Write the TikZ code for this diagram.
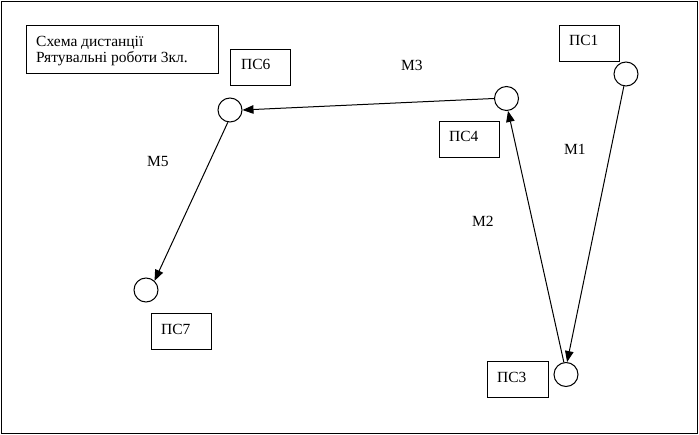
\documentclass[tikz,border=0pt]{standalone}
\usepackage{fontspec}
\setmainfont{Liberation Serif}
\usetikzlibrary{arrows.meta}
\begin{document}
\begin{tikzpicture}[x=1pt,y=-1pt,
  lbl/.style={anchor=base west,inner sep=0pt,font=\fontsize{15.5}{17}\selectfont},
  box/.style={draw,line width=1pt},
  st/.style={draw,circle,minimum size=24pt,inner sep=0pt,line width=1pt},
  con/.style={line width=1pt,-{Triangle[length=11pt,width=8.5pt]}}]
\useasboundingbox (0,0) rectangle (699,435);
\draw[line width=1pt] (1.5,1.5) rectangle (697.5,433.5);
% title
\draw[box] (26,26) rectangle (218,74);
\node[lbl] (t1) at (36,47) {Схема дистанції};
\node[lbl] (t2) at (36,63) {Рятувальні роботи 3кл.};
% label boxes
\draw[box] (230,50) rectangle (290,86);
\node[lbl] (l6) at (241,70) {ПС6};
\draw[box] (559,26) rectangle (619,62);
\node[lbl] (l1) at (569,46) {ПС1};
\draw[box] (439,122) rectangle (499,158);
\node[lbl] (l4) at (449,142) {ПС4};
\draw[box] (151,314) rectangle (211,350);
\node[lbl] (l7) at (161,335) {ПС7};
\draw[box] (487,362) rectangle (548,398);
\node[lbl] (l3) at (497,383) {ПС3};
% stations
\node[st] (p6) at (230,110) {};
\node[st] (p4) at (506.5,98.5) {};
\node[st] (p1) at (626,74) {};
\node[st] (p7) at (146,290) {};
\node[st] (p3) at (566,374.5) {};
% route labels
\node[lbl] (m3) at (401,71) {М3};
\node[lbl] (m1) at (564,155) {М1};
\node[lbl] (m5) at (147,167) {М5};
\node[lbl] (m2) at (472,227) {М2};
% connectors
\draw[con] (p4.west) -- (p6.east);
\draw[con] (p6.260) -- (p7.47);
\draw[con] (p1.260) -- (p3.85);
\draw[con] (p3.100) -- (p4.277);
\end{tikzpicture}
\end{document}
